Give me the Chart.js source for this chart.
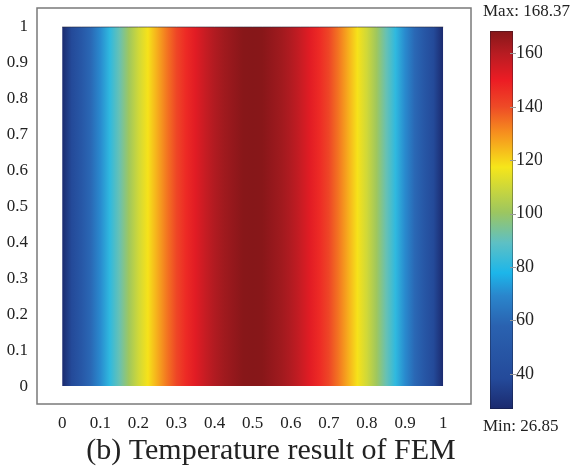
<!DOCTYPE html>
<html>
<head>
<meta charset="utf-8">
<script src="https://cdn.jsdelivr.net/npm/chart.js@4.4.0/dist/chart.umd.min.js"></script>
<style>
  body { margin: 0; background: #fff; }
  canvas { display: block; }
</style>
</head>
<body>
<canvas id="chart-fem" width="581" height="469"></canvas>
<script>
var xPos = [0, 0.025, 0.05, 0.075, 0.1, 0.125, 0.15, 0.175, 0.2, 0.225, 0.25, 0.275, 0.3, 0.325, 0.35, 0.375, 0.4, 0.425, 0.45, 0.475,
            0.5, 0.525, 0.55, 0.575, 0.6, 0.625, 0.65, 0.675, 0.7, 0.725, 0.75, 0.775, 0.8, 0.825, 0.85, 0.875, 0.9, 0.925, 0.95, 0.975, 1];
var temps = [26.9, 38, 49, 60, 70, 81, 91, 101, 110, 118, 126, 134, 141, 147, 152, 157, 161, 164, 166, 168,
             168.4, 168, 166, 164, 161, 157, 152, 147, 141, 134, 126, 118, 110, 101, 91, 81, 70, 60, 49, 38, 26.9];
var xTicks = [0, 0.1, 0.2, 0.3, 0.4, 0.5, 0.6, 0.7, 0.8, 0.9, 1];
var yTicks = [0, 0.1, 0.2, 0.3, 0.4, 0.5, 0.6, 0.7, 0.8, 0.9, 1];
var tickLabels = ["0", "0.1", "0.2", "0.3", "0.4", "0.5", "0.6", "0.7", "0.8", "0.9", "1"];
var cbTicks = [40, 60, 80, 100, 120, 140, 160];
var tMin = 26.85;
var tMax = 168.37;

// colour map of the colour bar, bottom to top
var jet = [
  [0.00, '#1b2a6e'], [0.08, '#244a9a'], [0.22, '#2a62b0'], [0.30, '#2a86cc'],
  [0.36, '#1cb6ea'], [0.44, '#5ec0c4'], [0.52, '#9cc660'], [0.64, '#f6e61a'],
  [0.73, '#f6901e'], [0.80, '#ee4a26'], [0.87, '#ec1c24'], [0.94, '#b81c22'], [1.00, '#861719']
];
var serif = '"Liberation Serif", "Times New Roman", serif';
var ink = '#222';

function hexRgb(h) {
  return [parseInt(h.substr(1, 2), 16), parseInt(h.substr(3, 2), 16), parseInt(h.substr(5, 2), 16)];
}

function tempColor(t) {
  var f = Math.max(0, Math.min(1, (t - tMin) / (tMax - tMin)));
  for (var i = 1; i < jet.length; i++) {
    if (f <= jet[i][0]) {
      var a = hexRgb(jet[i - 1][1]), b = hexRgb(jet[i][1]);
      var k = (f - jet[i - 1][0]) / (jet[i][0] - jet[i - 1][0]);
      return 'rgb(' + [0, 1, 2].map(function (j) { return Math.round(a[j] + (b[j] - a[j]) * k); }).join(',') + ')';
    }
  }
  return jet[jet.length - 1][1];
}

function heatFill(context) {
  var chart = context.chart;
  if (!chart.chartArea) return 'transparent';
  var sx = chart.scales.x;
  var x0 = sx.getPixelForValue(xPos[0]);
  var x1 = sx.getPixelForValue(xPos[xPos.length - 1]);
  var g = chart.ctx.createLinearGradient(x0, 0, x1, 0);
  for (var i = 0; i < xPos.length; i++) {
    g.addColorStop((sx.getPixelForValue(xPos[i]) - x0) / (x1 - x0), tempColor(temps[i]));
  }
  return g;
}

var frame = {
  id: 'frame',
  afterDraw: function (chart) {
    var ctx = chart.ctx, a = chart.chartArea, cb = chart.scales.cb;
    ctx.save();
    ctx.strokeStyle = '#7a7a7a';
    ctx.lineWidth = 1.5;
    ctx.strokeRect(a.left, a.top, a.right - a.left, a.bottom - a.top);

    // colour bar
    var bx = cb.left + 19, bw = 23;
    var yTop = cb.getPixelForValue(tMax), yBot = cb.getPixelForValue(tMin);
    var g = ctx.createLinearGradient(0, yBot, 0, yTop);
    jet.forEach(function (s) { g.addColorStop(s[0], s[1]); });
    ctx.fillStyle = g;
    ctx.fillRect(bx, yTop, bw, yBot - yTop);
    ctx.strokeStyle = 'rgba(20,20,40,0.35)';
    ctx.lineWidth = 1;
    ctx.strokeRect(bx + 0.5, yTop + 0.5, bw - 1, yBot - yTop - 1);
    ctx.strokeStyle = '#999';
    cbTicks.forEach(function (v) {
      var y = Math.round(cb.getPixelForValue(v)) + 0.5;
      ctx.beginPath();
      ctx.moveTo(bx + bw - 3, y);
      ctx.lineTo(bx + bw + 3, y);
      ctx.stroke();
    });

    ctx.fillStyle = ink;
    ctx.font = '17px ' + serif;
    ctx.textAlign = 'left';
    ctx.textBaseline = 'middle';
    ctx.fillText('Max: ' + tMax.toFixed(2), cb.left + 12, 12);
    ctx.fillText('Min: ' + tMin.toFixed(2), cb.left + 12, 427);
    ctx.restore();
  }
};

function fixedTicks(list) {
  return function (scale) {
    scale.ticks = list.map(function (v) { return { value: v }; });
  };
}

function fitTo(w, h) {
  return function (s) {
    if (w) s.width = w;
    if (h) s.height = h;
    s.paddingTop = 0;
    s.paddingBottom = 0;
    s.paddingLeft = 0;
    s.paddingRight = 0;
  };
}

new Chart(document.getElementById('chart-fem').getContext('2d'), {
  type: 'line',
  data: {
    datasets: [{
      label: 'Temperature',
      data: xPos.map(function (x) { return { x: x, y: 1 }; }),
      fill: 'origin',
      backgroundColor: heatFill,
      borderColor: 'rgba(40,40,60,0.6)',
      borderWidth: 1,
      pointRadius: 0,
      tension: 0
    }]
  },
  options: {
    responsive: false,
    animation: false,
    layout: { padding: { top: 8, left: 0, right: 39, bottom: 0 } },
    plugins: {
      legend: { display: false },
      tooltip: { enabled: false },
      title: {
        display: true,
        position: 'bottom',
        text: '(b) Temperature result of FEM',
        color: ink,
        font: { family: serif, size: 30, weight: 'normal' },
        padding: { top: 0, bottom: 0 }
      }
    },
    scales: {
      x: {
        type: 'linear',
        min: -0.066,
        max: 1.073,
        grid: { display: false, drawTicks: false },
        border: { display: false },
        afterBuildTicks: fixedTicks(xTicks),
        afterFit: fitTo(0, 29),
        ticks: {
          autoSkip: false,
          maxRotation: 0,
          padding: 9,
          color: ink,
          font: { family: serif, size: 17 },
          callback: function (v, i) { return tickLabels[i]; }
        }
      },
      y: {
        type: 'linear',
        min: -0.05,
        max: 1.053,
        grid: { display: false, drawTicks: false },
        border: { display: false },
        afterBuildTicks: fixedTicks(yTicks),
        afterFit: fitTo(37, 0),
        ticks: {
          autoSkip: false,
          padding: 9,
          color: ink,
          font: { family: serif, size: 17 },
          callback: function (v, i) { return tickLabels[i]; }
        }
      },
      cb: {
        type: 'linear',
        position: 'right',
        min: 28.72,
        max: 176.98,
        grid: { display: false, drawTicks: false },
        border: { display: false },
        afterBuildTicks: fixedTicks(cbTicks),
        afterFit: fitTo(71, 0),
        ticks: {
          autoSkip: false,
          padding: 45,
          color: ink,
          font: { family: serif, size: 18 }
        }
      }
    }
  },
  plugins: [frame]
});
</script>
</body>
</html>
